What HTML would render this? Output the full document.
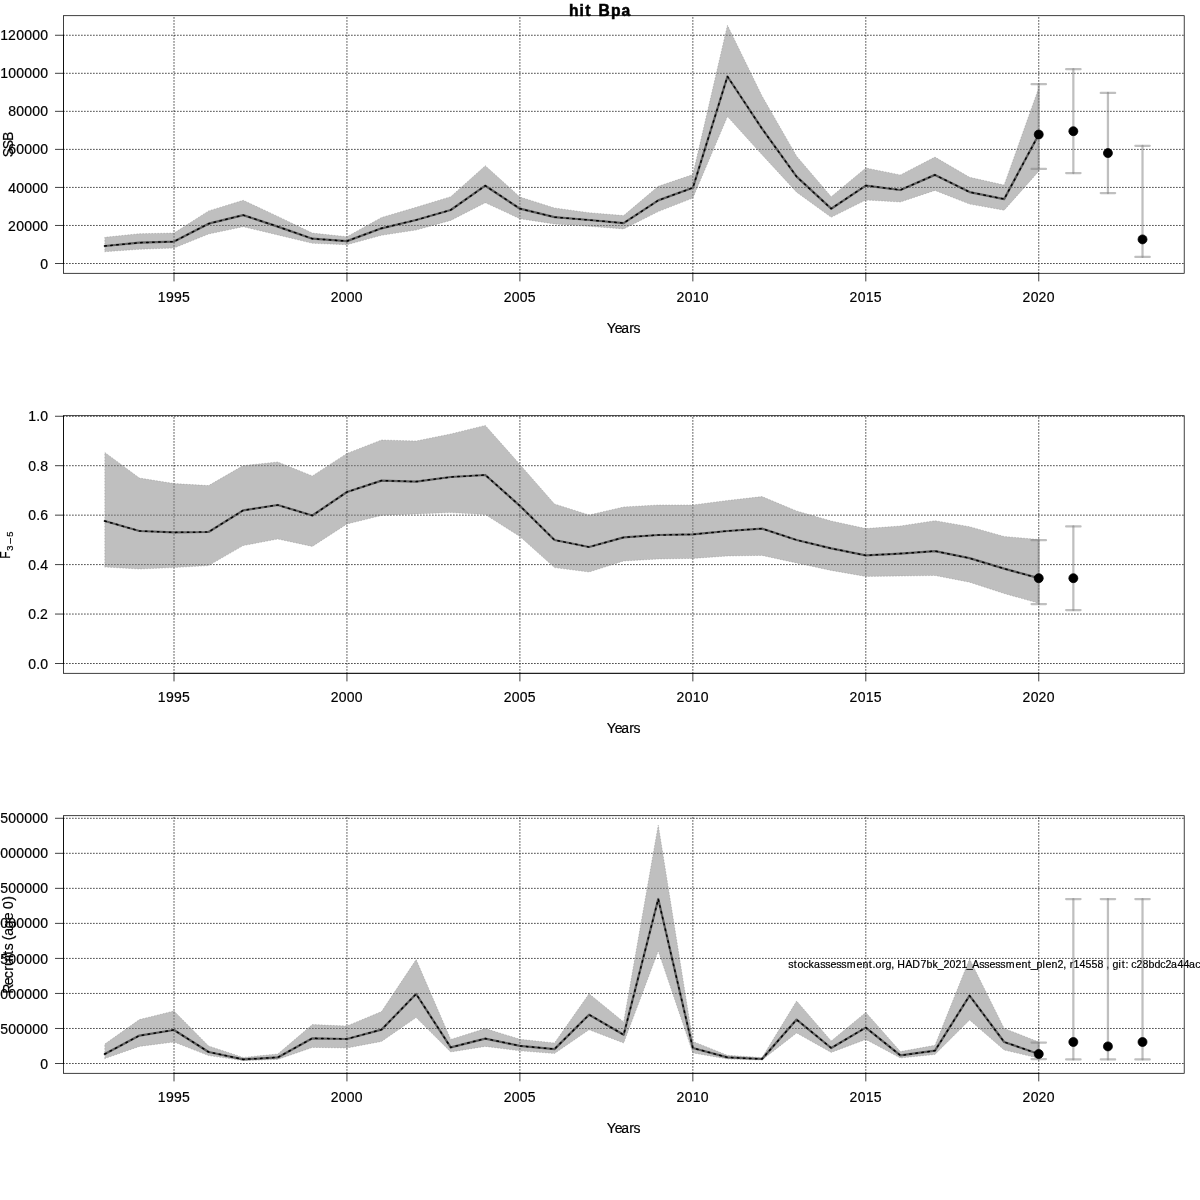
<!DOCTYPE html><html><head><meta charset="utf-8"><title>hit Bpa</title><style>html,body{margin:0;padding:0;background:#fff;overflow:hidden;}svg{display:block;will-change:transform;}text{font-family:"Liberation Sans", sans-serif;fill:#000;stroke:#000;stroke-width:0.2px;}</style></head><body>
<svg width="1200" height="1200" viewBox="0 0 1200 1200">
<rect x="0" y="0" width="1200" height="1200" fill="#ffffff"/>
<path d="M174.00 273.30V15.70M346.95 273.30V15.70M519.90 273.30V15.70M692.85 273.30V15.70M865.80 273.30V15.70M1038.75 273.30V15.70M63.50 263.50H1184.20M63.50 225.46H1184.20M63.50 187.42H1184.20M63.50 149.38H1184.20M63.50 111.34H1184.20M63.50 73.30H1184.20M63.50 35.26H1184.20" stroke="#000" stroke-width="0.75" stroke-dasharray="0.75 2.25" stroke-linecap="round" fill="none"/>
<polyline points="104.82,246.00 139.41,242.70 174.00,241.60 208.59,223.70 243.18,215.10 277.77,226.60 312.36,238.70 346.95,241.10 381.54,228.30 416.13,220.00 450.72,210.00 485.31,185.70 519.90,208.70 554.49,217.10 589.08,220.00 623.67,223.10 658.26,200.40 692.85,187.80 727.44,76.50 762.03,128.70 796.62,176.70 831.21,208.70 865.80,185.60 900.39,190.00 934.98,174.90 969.57,192.10 1004.16,199.10 1038.75,134.50" fill="none" stroke="#404040" stroke-width="2.25" stroke-linejoin="round" stroke-linecap="round"/>
<polygon points="104.82,251.70 139.41,249.30 174.00,248.00 208.59,234.00 243.18,226.70 277.77,234.90 312.36,243.30 346.95,244.70 381.54,235.30 416.13,230.00 450.72,220.40 485.31,202.70 519.90,218.70 554.49,224.00 589.08,226.30 623.67,228.90 658.26,211.60 692.85,198.00 727.44,116.50 762.03,154.70 796.62,192.20 831.21,217.30 865.80,200.00 900.39,202.00 934.98,190.40 969.57,204.10 1004.16,210.20 1038.75,171.30 1038.75,88.00 1004.16,185.10 969.57,177.30 934.98,157.10 900.39,174.90 865.80,168.00 831.21,196.70 796.62,156.20 762.03,96.00 727.44,25.30 692.85,174.60 658.26,186.30 623.67,215.60 589.08,212.70 554.49,208.00 519.90,197.00 485.31,165.70 450.72,196.70 416.13,207.30 381.54,217.50 346.95,236.70 312.36,233.10 277.77,216.40 243.18,200.30 208.59,210.90 174.00,233.10 139.41,233.70 104.82,237.30" fill="rgba(128,128,128,0.5)" stroke="rgba(128,128,128,0.5)" stroke-width="0.75" stroke-dasharray="0.75 2.25" stroke-linecap="round" stroke-linejoin="round"/>
<polyline points="104.82,246.00 139.41,242.70 174.00,241.60 208.59,223.70 243.18,215.10 277.77,226.60 312.36,238.70 346.95,241.10 381.54,228.30 416.13,220.00 450.72,210.00 485.31,185.70 519.90,208.70 554.49,217.10 589.08,220.00 623.67,223.10 658.26,200.40 692.85,187.80 727.44,76.50 762.03,128.70 796.62,176.70 831.21,208.70 865.80,185.60 900.39,190.00 934.98,174.90 969.57,192.10 1004.16,199.10 1038.75,134.50" fill="none" stroke="#000" stroke-width="1.5" stroke-dasharray="1.5 4.5" stroke-linecap="round" stroke-linejoin="round"/>
<path d="M1038.75 168.90V84.20" fill="none" stroke="rgba(128,128,128,0.5)" stroke-width="2.25" stroke-linecap="round" stroke-linejoin="round"/>
<path d="M1031.55 84.20H1045.95" fill="none" stroke="rgba(128,128,128,0.5)" stroke-width="2.25" stroke-linecap="round" stroke-linejoin="round"/>
<path d="M1031.55 168.90H1045.95" fill="none" stroke="rgba(128,128,128,0.5)" stroke-width="2.25" stroke-linecap="round" stroke-linejoin="round"/>
<path d="M1073.34 173.00V69.20" fill="none" stroke="rgba(128,128,128,0.5)" stroke-width="2.25" stroke-linecap="round" stroke-linejoin="round"/>
<path d="M1066.14 69.20H1080.54" fill="none" stroke="rgba(128,128,128,0.5)" stroke-width="2.25" stroke-linecap="round" stroke-linejoin="round"/>
<path d="M1066.14 173.00H1080.54" fill="none" stroke="rgba(128,128,128,0.5)" stroke-width="2.25" stroke-linecap="round" stroke-linejoin="round"/>
<path d="M1107.93 193.00V92.90" fill="none" stroke="rgba(128,128,128,0.5)" stroke-width="2.25" stroke-linecap="round" stroke-linejoin="round"/>
<path d="M1100.73 92.90H1115.13" fill="none" stroke="rgba(128,128,128,0.5)" stroke-width="2.25" stroke-linecap="round" stroke-linejoin="round"/>
<path d="M1100.73 193.00H1115.13" fill="none" stroke="rgba(128,128,128,0.5)" stroke-width="2.25" stroke-linecap="round" stroke-linejoin="round"/>
<path d="M1142.52 256.90V145.80" fill="none" stroke="rgba(128,128,128,0.5)" stroke-width="2.25" stroke-linecap="round" stroke-linejoin="round"/>
<path d="M1135.32 145.80H1149.72" fill="none" stroke="rgba(128,128,128,0.5)" stroke-width="2.25" stroke-linecap="round" stroke-linejoin="round"/>
<path d="M1135.32 256.90H1149.72" fill="none" stroke="rgba(128,128,128,0.5)" stroke-width="2.25" stroke-linecap="round" stroke-linejoin="round"/>
<circle cx="1038.75" cy="134.50" r="4.5" fill="#000" stroke="#000" stroke-width="0.75"/>
<circle cx="1073.34" cy="131.20" r="4.5" fill="#000" stroke="#000" stroke-width="0.75"/>
<circle cx="1107.93" cy="153.10" r="4.5" fill="#000" stroke="#000" stroke-width="0.75"/>
<circle cx="1142.52" cy="239.40" r="4.5" fill="#000" stroke="#000" stroke-width="0.75"/>
<rect x="63.50" y="15.70" width="1120.70" height="257.60" fill="none" stroke="#000" stroke-width="0.75"/>
<path d="M174.00 273.30V281.00M346.95 273.30V281.00M519.90 273.30V281.00M692.85 273.30V281.00M865.80 273.30V281.00M1038.75 273.30V281.00M174.00 273.30H1038.75M55.40 263.50H63.50M55.40 225.46H63.50M55.40 187.42H63.50M55.40 149.38H63.50M55.40 111.34H63.50M55.40 73.30H63.50M55.40 35.26H63.50M63.50 263.50V35.26" stroke="#000" stroke-width="0.75" stroke-linecap="round" fill="none"/>
<text x="157.84 165.88 173.88 181.88" y="302.00" font-size="14.00">1995</text>
<text x="330.71 338.87 346.87 354.87" y="302.00" font-size="14.00">2000</text>
<text x="503.66 511.82 519.82 527.78" y="302.00" font-size="14.00">2005</text>
<text x="676.61 684.77 692.69 700.77" y="302.00" font-size="14.00">2010</text>
<text x="849.56 857.72 865.64 873.68" y="302.00" font-size="14.00">2015</text>
<text x="1022.51 1030.67 1038.51 1046.67" y="302.00" font-size="14.00">2020</text>
<text x="40.22" y="269.00" font-size="14.00">0</text>
<text x="8.06 16.22 24.22 32.22 40.22" y="231.00" font-size="14.00">20000</text>
<text x="8.22 16.22 24.22 32.22 40.22" y="193.00" font-size="14.00">40000</text>
<text x="8.22 16.22 24.22 32.22 40.22" y="154.00" font-size="14.00">60000</text>
<text x="8.22 16.22 24.22 32.22 40.22" y="116.00" font-size="14.00">80000</text>
<text x="0.14 8.22 16.22 24.22 32.22 40.22" y="78.00" font-size="14.00">100000</text>
<text x="0.14 8.06 16.22 24.22 32.22 40.22" y="40.00" font-size="14.00">120000</text>
<text x="606.85 614.67 621.15 629.18 633.57" y="333.00" font-size="14.00">Years</text>
<path d="M174.00 673.30V415.70M346.95 673.30V415.70M519.90 673.30V415.70M692.85 673.30V415.70M865.80 673.30V415.70M1038.75 673.30V415.70M63.50 663.50H1184.20M63.50 614.05H1184.20M63.50 564.60H1184.20M63.50 515.15H1184.20M63.50 465.70H1184.20M63.50 416.25H1184.20" stroke="#000" stroke-width="0.75" stroke-dasharray="0.75 2.25" stroke-linecap="round" fill="none"/>
<polyline points="104.82,521.00 139.41,531.00 174.00,532.40 208.59,532.00 243.18,510.40 277.77,505.00 312.36,515.50 346.95,492.00 381.54,480.60 416.13,481.60 450.72,477.00 485.31,475.00 519.90,505.80 554.49,540.00 589.08,547.00 623.67,537.40 658.26,535.00 692.85,534.40 727.44,531.00 762.03,528.60 796.62,540.00 831.21,548.40 865.80,555.40 900.39,553.60 934.98,551.10 969.57,558.20 1004.16,568.70 1038.75,578.20" fill="none" stroke="#404040" stroke-width="2.25" stroke-linejoin="round" stroke-linecap="round"/>
<polygon points="104.82,567.00 139.41,569.00 174.00,567.60 208.59,565.60 243.18,545.60 277.77,539.00 312.36,546.40 346.95,524.00 381.54,515.40 416.13,514.00 450.72,512.60 485.31,514.60 519.90,536.50 554.49,567.60 589.08,572.00 623.67,561.00 658.26,559.00 692.85,558.40 727.44,556.00 762.03,555.40 796.62,563.00 831.21,570.40 865.80,576.40 900.39,576.00 934.98,575.50 969.57,582.20 1004.16,593.50 1038.75,603.20 1038.75,539.50 1004.16,536.50 969.57,526.70 934.98,520.70 900.39,526.00 865.80,528.60 831.21,521.00 796.62,511.00 762.03,496.60 727.44,500.50 692.85,505.00 658.26,505.00 623.67,507.00 589.08,515.00 554.49,504.00 519.90,464.50 485.31,425.40 450.72,434.00 416.13,441.00 381.54,440.00 346.95,453.40 312.36,476.00 277.77,462.00 243.18,465.60 208.59,485.60 174.00,483.60 139.41,478.00 104.82,452.40" fill="rgba(128,128,128,0.5)" stroke="rgba(128,128,128,0.5)" stroke-width="0.75" stroke-dasharray="0.75 2.25" stroke-linecap="round" stroke-linejoin="round"/>
<polyline points="104.82,521.00 139.41,531.00 174.00,532.40 208.59,532.00 243.18,510.40 277.77,505.00 312.36,515.50 346.95,492.00 381.54,480.60 416.13,481.60 450.72,477.00 485.31,475.00 519.90,505.80 554.49,540.00 589.08,547.00 623.67,537.40 658.26,535.00 692.85,534.40 727.44,531.00 762.03,528.60 796.62,540.00 831.21,548.40 865.80,555.40 900.39,553.60 934.98,551.10 969.57,558.20 1004.16,568.70 1038.75,578.20" fill="none" stroke="#000" stroke-width="1.5" stroke-dasharray="1.5 4.5" stroke-linecap="round" stroke-linejoin="round"/>
<path d="M1038.75 604.00V540.20" fill="none" stroke="rgba(128,128,128,0.5)" stroke-width="2.25" stroke-linecap="round" stroke-linejoin="round"/>
<path d="M1031.55 540.20H1045.95" fill="none" stroke="rgba(128,128,128,0.5)" stroke-width="2.25" stroke-linecap="round" stroke-linejoin="round"/>
<path d="M1031.55 604.00H1045.95" fill="none" stroke="rgba(128,128,128,0.5)" stroke-width="2.25" stroke-linecap="round" stroke-linejoin="round"/>
<path d="M1073.34 610.00V526.40" fill="none" stroke="rgba(128,128,128,0.5)" stroke-width="2.25" stroke-linecap="round" stroke-linejoin="round"/>
<path d="M1066.14 526.40H1080.54" fill="none" stroke="rgba(128,128,128,0.5)" stroke-width="2.25" stroke-linecap="round" stroke-linejoin="round"/>
<path d="M1066.14 610.00H1080.54" fill="none" stroke="rgba(128,128,128,0.5)" stroke-width="2.25" stroke-linecap="round" stroke-linejoin="round"/>
<circle cx="1038.75" cy="578.20" r="4.5" fill="#000" stroke="#000" stroke-width="0.75"/>
<circle cx="1073.34" cy="578.20" r="4.5" fill="#000" stroke="#000" stroke-width="0.75"/>
<rect x="63.50" y="415.70" width="1120.70" height="257.60" fill="none" stroke="#000" stroke-width="0.75"/>
<path d="M174.00 673.30V681.00M346.95 673.30V681.00M519.90 673.30V681.00M692.85 673.30V681.00M865.80 673.30V681.00M1038.75 673.30V681.00M174.00 673.30H1038.75M55.40 663.50H63.50M55.40 614.05H63.50M55.40 564.60H63.50M55.40 515.15H63.50M55.40 465.70H63.50M55.40 416.25H63.50M63.50 663.50V416.25" stroke="#000" stroke-width="0.75" stroke-linecap="round" fill="none"/>
<text x="157.84 165.88 173.88 181.88" y="702.00" font-size="14.00">1995</text>
<text x="330.71 338.87 346.87 354.87" y="702.00" font-size="14.00">2000</text>
<text x="503.66 511.82 519.82 527.78" y="702.00" font-size="14.00">2005</text>
<text x="676.61 684.77 692.69 700.77" y="702.00" font-size="14.00">2010</text>
<text x="849.56 857.72 865.64 873.68" y="702.00" font-size="14.00">2015</text>
<text x="1022.51 1030.67 1038.51 1046.67" y="702.00" font-size="14.00">2020</text>
<text x="28.22 36.26 40.22" y="669.00" font-size="14.00">0.0</text>
<text x="28.22 36.26 40.06" y="619.00" font-size="14.00">0.2</text>
<text x="28.22 36.26 40.22" y="570.00" font-size="14.00">0.4</text>
<text x="28.22 36.26 40.22" y="520.00" font-size="14.00">0.6</text>
<text x="28.22 36.26 40.22" y="471.00" font-size="14.00">0.8</text>
<text x="28.14 36.26 40.22" y="421.00" font-size="14.00">1.0</text>
<text x="606.85 614.67 621.15 629.18 633.57" y="733.00" font-size="14.00">Years</text>
<path d="M174.00 1073.30V815.70M346.95 1073.30V815.70M519.90 1073.30V815.70M692.85 1073.30V815.70M865.80 1073.30V815.70M1038.75 1073.30V815.70M63.50 1063.50H1184.20M63.50 1028.47H1184.20M63.50 993.44H1184.20M63.50 958.41H1184.20M63.50 923.38H1184.20M63.50 888.35H1184.20M63.50 853.32H1184.20M63.50 818.29H1184.20" stroke="#000" stroke-width="0.75" stroke-dasharray="0.75 2.25" stroke-linecap="round" fill="none"/>
<polyline points="104.82,1054.00 139.41,1035.60 174.00,1030.00 208.59,1052.00 243.18,1059.40 277.77,1057.40 312.36,1038.30 346.95,1039.00 381.54,1029.60 416.13,994.00 450.72,1047.40 485.31,1038.60 519.90,1045.90 554.49,1049.10 589.08,1014.70 623.67,1034.80 658.26,899.00 692.85,1048.00 727.44,1057.40 762.03,1059.00 796.62,1019.60 831.21,1048.00 865.80,1027.60 900.39,1055.40 934.98,1050.70 969.57,995.60 1004.16,1042.00 1038.75,1054.00" fill="none" stroke="#404040" stroke-width="2.25" stroke-linejoin="round" stroke-linecap="round"/>
<polygon points="104.82,1058.60 139.41,1046.40 174.00,1042.00 208.59,1055.60 243.18,1060.60 277.77,1059.40 312.36,1047.40 346.95,1048.00 381.54,1041.40 416.13,1017.60 450.72,1052.00 485.31,1046.40 519.90,1050.80 554.49,1053.50 589.08,1029.70 623.67,1043.00 658.26,950.90 692.85,1052.90 727.44,1059.00 762.03,1060.00 796.62,1033.00 831.21,1052.40 865.80,1039.40 900.39,1058.00 934.98,1054.40 969.57,1020.00 1004.16,1050.00 1038.75,1058.20 1038.75,1042.00 1004.16,1028.40 969.57,959.00 934.98,1045.30 900.39,1051.60 865.80,1012.40 831.21,1041.00 796.62,1001.00 762.03,1057.60 727.44,1055.30 692.85,1041.40 658.26,825.00 623.67,1022.00 589.08,993.70 554.49,1043.00 519.90,1039.30 485.31,1028.60 450.72,1039.40 416.13,959.60 381.54,1011.60 346.95,1026.00 312.36,1024.60 277.77,1054.00 243.18,1057.40 208.59,1046.00 174.00,1011.00 139.41,1019.60 104.82,1044.00" fill="rgba(128,128,128,0.5)" stroke="rgba(128,128,128,0.5)" stroke-width="0.75" stroke-dasharray="0.75 2.25" stroke-linecap="round" stroke-linejoin="round"/>
<polyline points="104.82,1054.00 139.41,1035.60 174.00,1030.00 208.59,1052.00 243.18,1059.40 277.77,1057.40 312.36,1038.30 346.95,1039.00 381.54,1029.60 416.13,994.00 450.72,1047.40 485.31,1038.60 519.90,1045.90 554.49,1049.10 589.08,1014.70 623.67,1034.80 658.26,899.00 692.85,1048.00 727.44,1057.40 762.03,1059.00 796.62,1019.60 831.21,1048.00 865.80,1027.60 900.39,1055.40 934.98,1050.70 969.57,995.60 1004.16,1042.00 1038.75,1054.00" fill="none" stroke="#000" stroke-width="1.5" stroke-dasharray="1.5 4.5" stroke-linecap="round" stroke-linejoin="round"/>
<text x="788.33 793.76 797.41 803.28 808.62 814.04 820.33 825.33 830.45 836.33 841.33 846.78 856.45 862.54 868.76 872.41 875.41 881.78 885.47 891.31 894.33 897.23 905.18 912.34 920.51 926.59 932.62 937.87 943.40 949.53 955.40 961.48 966.87 972.18 979.33 984.33 989.45 995.33 1000.33 1005.78 1015.45 1021.54 1027.76 1030.87 1036.59 1042.51 1045.45 1051.54 1057.40 1063.31 1066.33 1069.78 1073.48 1079.53 1085.49 1091.49 1097.53 1103.33 1106.31 1109.33 1112.47 1118.52 1121.76 1125.51 1128.33 1131.28 1136.40 1142.53 1148.59 1154.47 1160.28 1165.40 1171.04 1177.53 1183.53 1189.04 1195.28" y="968.00" font-size="10.60">stockassessment.org, HAD7bk_2021_Assessment_plen2, r14558 , git: c28bdc2a44ac</text>
<path d="M1038.75 1059.00V1042.60" fill="none" stroke="rgba(128,128,128,0.5)" stroke-width="2.25" stroke-linecap="round" stroke-linejoin="round"/>
<path d="M1031.55 1042.60H1045.95" fill="none" stroke="rgba(128,128,128,0.5)" stroke-width="2.25" stroke-linecap="round" stroke-linejoin="round"/>
<path d="M1031.55 1059.00H1045.95" fill="none" stroke="rgba(128,128,128,0.5)" stroke-width="2.25" stroke-linecap="round" stroke-linejoin="round"/>
<path d="M1073.34 1059.40V899.00" fill="none" stroke="rgba(128,128,128,0.5)" stroke-width="2.25" stroke-linecap="round" stroke-linejoin="round"/>
<path d="M1066.14 899.00H1080.54" fill="none" stroke="rgba(128,128,128,0.5)" stroke-width="2.25" stroke-linecap="round" stroke-linejoin="round"/>
<path d="M1066.14 1059.40H1080.54" fill="none" stroke="rgba(128,128,128,0.5)" stroke-width="2.25" stroke-linecap="round" stroke-linejoin="round"/>
<path d="M1107.93 1059.40V899.00" fill="none" stroke="rgba(128,128,128,0.5)" stroke-width="2.25" stroke-linecap="round" stroke-linejoin="round"/>
<path d="M1100.73 899.00H1115.13" fill="none" stroke="rgba(128,128,128,0.5)" stroke-width="2.25" stroke-linecap="round" stroke-linejoin="round"/>
<path d="M1100.73 1059.40H1115.13" fill="none" stroke="rgba(128,128,128,0.5)" stroke-width="2.25" stroke-linecap="round" stroke-linejoin="round"/>
<path d="M1142.52 1059.40V899.00" fill="none" stroke="rgba(128,128,128,0.5)" stroke-width="2.25" stroke-linecap="round" stroke-linejoin="round"/>
<path d="M1135.32 899.00H1149.72" fill="none" stroke="rgba(128,128,128,0.5)" stroke-width="2.25" stroke-linecap="round" stroke-linejoin="round"/>
<path d="M1135.32 1059.40H1149.72" fill="none" stroke="rgba(128,128,128,0.5)" stroke-width="2.25" stroke-linecap="round" stroke-linejoin="round"/>
<circle cx="1038.75" cy="1054.00" r="4.5" fill="#000" stroke="#000" stroke-width="0.75"/>
<circle cx="1073.34" cy="1042.00" r="4.5" fill="#000" stroke="#000" stroke-width="0.75"/>
<circle cx="1107.93" cy="1046.40" r="4.5" fill="#000" stroke="#000" stroke-width="0.75"/>
<circle cx="1142.52" cy="1042.00" r="4.5" fill="#000" stroke="#000" stroke-width="0.75"/>
<rect x="63.50" y="815.70" width="1120.70" height="257.60" fill="none" stroke="#000" stroke-width="0.75"/>
<path d="M174.00 1073.30V1081.00M346.95 1073.30V1081.00M519.90 1073.30V1081.00M692.85 1073.30V1081.00M865.80 1073.30V1081.00M1038.75 1073.30V1081.00M174.00 1073.30H1038.75M55.40 1063.50H63.50M55.40 1028.47H63.50M55.40 993.44H63.50M55.40 958.41H63.50M55.40 923.38H63.50M55.40 888.35H63.50M55.40 853.32H63.50M55.40 818.29H63.50M63.50 1063.50V818.29" stroke="#000" stroke-width="0.75" stroke-linecap="round" fill="none"/>
<text x="157.84 165.88 173.88 181.88" y="1102.00" font-size="14.00">1995</text>
<text x="330.71 338.87 346.87 354.87" y="1102.00" font-size="14.00">2000</text>
<text x="503.66 511.82 519.82 527.78" y="1102.00" font-size="14.00">2005</text>
<text x="676.61 684.77 692.69 700.77" y="1102.00" font-size="14.00">2010</text>
<text x="849.56 857.72 865.64 873.68" y="1102.00" font-size="14.00">2015</text>
<text x="1022.51 1030.67 1038.51 1046.67" y="1102.00" font-size="14.00">2020</text>
<text x="40.22" y="1069.00" font-size="14.00">0</text>
<text x="0.18 8.22 16.22 24.22 32.22 40.22" y="1034.00" font-size="14.00">500000</text>
<text x="-7.86 0.22 8.22 16.22 24.22 32.22 40.22" y="999.00" font-size="14.00">1000000</text>
<text x="-7.86 0.18 8.22 16.22 24.22 32.22 40.22" y="964.00" font-size="14.00">1500000</text>
<text x="-7.94 0.22 8.22 16.22 24.22 32.22 40.22" y="928.00" font-size="14.00">2000000</text>
<text x="-7.94 0.18 8.22 16.22 24.22 32.22 40.22" y="893.00" font-size="14.00">2500000</text>
<text x="-7.76 0.22 8.22 16.22 24.22 32.22 40.22" y="858.00" font-size="14.00">3000000</text>
<text x="-7.76 0.18 8.22 16.22 24.22 32.22 40.22" y="823.00" font-size="14.00">3500000</text>
<text x="606.85 614.67 621.15 629.18 633.57" y="1133.00" font-size="14.00">Years</text>
<g transform="translate(13,144.5) rotate(-90)"><text x="-12.80 -4.80 3.41" y="0.00" font-size="14.00">SSB</text></g>
<g transform="translate(13,944.5) rotate(-90)"><text x="-49.22 -40.68 -33.85 -26.17 -21.62 -13.38 -10.13 -5.78 0.56 4.15 8.80 16.36 24.32 31.56 35.42 43.87" y="0.00" font-size="14.00">Recruits (age 0)</text></g>
<g transform="translate(10,558.8) rotate(-90)"><text x="0.15" y="0" font-size="14" textLength="7.3" lengthAdjust="spacingAndGlyphs">F</text></g>
<g transform="translate(13,550.8) rotate(-90)"><text x="0.00" y="0.00" font-size="9.40">3</text><text x="14.10" y="0.00" font-size="9.40">5</text></g>
<g transform="translate(13,550.8) rotate(-90)"><text x="7.05" y="0.00" font-size="10.20">–</text></g>
<text x="568.92 579.58 585.15 592.83 598.47 611.08 621.50" y="16.20" font-size="15.60" font-weight="bold" style="stroke-width:0.5px">hit Bpa</text>
</svg></body></html>
